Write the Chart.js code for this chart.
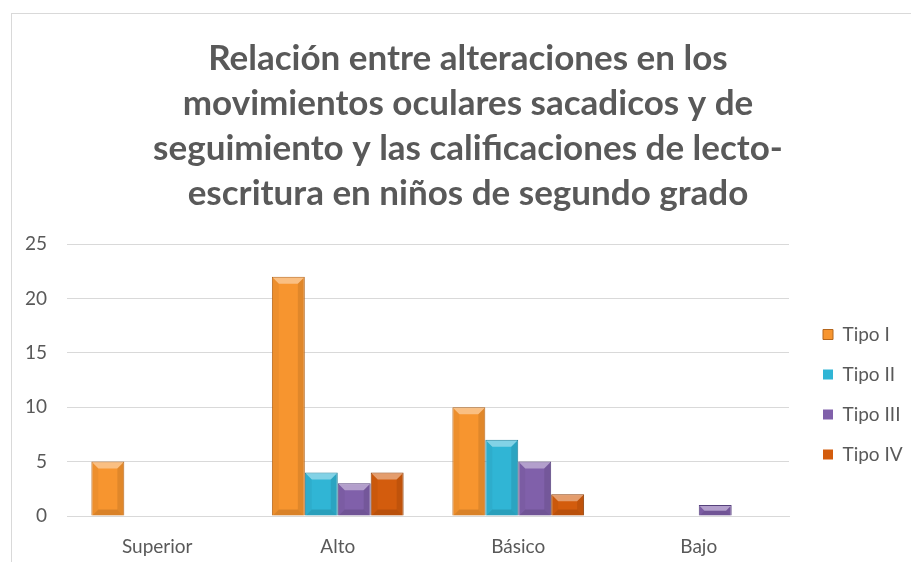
<!DOCTYPE html>
<html><head><meta charset="utf-8">
<script src="https://cdn.jsdelivr.net/npm/chart.js@4"></script>
<style>
html,body{margin:0;padding:0;background:#fff;overflow:hidden;width:911px;height:562px;}
#frame{position:absolute;left:11px;top:13px;width:920px;height:570px;border:1px solid #D9D9D9;box-sizing:border-box;}
#wrap{position:absolute;left:11px;top:13px;width:900px;height:549px;}
</style></head><body>
<div id="frame"></div>
<div id="wrap"><canvas id="c"></canvas></div>
<script>
const categories = ['Superior', 'Alto', 'Básico', 'Bajo'];
const seriesNames = ['Tipo I', 'Tipo II', 'Tipo III', 'Tipo IV'];
const tipoI = [5, 22, 10, 0];
const tipoII = [0, 4, 7, 0];
const tipoIII = [0, 3, 5, 1];
const tipoIV = [0, 4, 2, 0];
const yTickValues = [0, 5, 10, 15, 20, 25];
const titleLines = [
  'Relación entre alteraciones en los',
  'movimientos oculares sacadicos y de',
  'seguimiento y las calificaciones de lecto-',
  'escritura en niños de segundo grado'
];

const fills = ['#F7952F', '#30B5D5', '#8060AA', '#D35C0D'];
const edges = ['#B4661C', '#217F97', '#56417C', '#8C3D07'];
const seriesValues = [tipoI, tipoII, tipoIII, tipoIV];

const bevel = {
  id: 'bevel',
  afterDatasetsDraw(chart) {
    const ctx = chart.ctx;
    chart.data.datasets.forEach((ds, i) => {
      const meta = chart.getDatasetMeta(i);
      meta.data.forEach((bar, j) => {
        if (!ds.data[j]) return;
        const p = bar.getProps(['x', 'y', 'base', 'width'], true);
        const l = p.x - p.width / 2 + 1, r = p.x + p.width / 2 - 1, t = p.y + 1, b = p.base;
        const h = b - t;
        const e = Math.min(6, h / 2);
        ctx.save();
        ctx.fillStyle = 'rgba(255,255,255,0.40)';
        ctx.beginPath(); ctx.moveTo(l, t); ctx.lineTo(r, t); ctx.lineTo(r - e, t + e); ctx.lineTo(l + e, t + e); ctx.closePath(); ctx.fill();
        ctx.fillStyle = 'rgba(0,0,0,0.04)';
        ctx.beginPath(); ctx.moveTo(l, t); ctx.lineTo(l + e, t + e); ctx.lineTo(l + e, b - e); ctx.lineTo(l, b); ctx.closePath(); ctx.fill();
        ctx.fillStyle = 'rgba(0,0,0,0.09)';
        ctx.beginPath(); ctx.moveTo(r, t); ctx.lineTo(r - e, t + e); ctx.lineTo(r - e, b - e); ctx.lineTo(r, b); ctx.closePath(); ctx.fill();
        ctx.fillStyle = 'rgba(0,0,0,0.12)';
        ctx.beginPath(); ctx.moveTo(l, b); ctx.lineTo(r, b); ctx.lineTo(r - e, b - e); ctx.lineTo(l + e, b - e); ctx.closePath(); ctx.fill();
        ctx.restore();
      });
    });
  }
};

const legendPlace = {
  id: 'legendPlace',
  beforeLayout(chart) {
    const lg = chart.legend;
    if (lg && !lg._patched) {
      const f = lg.fit;
      lg.fit = function () { f.call(this); this.width = 122; };
      lg._patched = true;
    }
  },
  afterLayout(chart) {
    const lg = chart.legend;
    const w = lg.width, h = lg.height;
    lg.left = 791; lg.right = lg.left + w;
    lg.top = 291; lg.bottom = lg.top + h;
  }
};

new Chart(document.getElementById('c'), {
  type: 'bar',
  data: {
    labels: categories,
    datasets: seriesNames.map((n, i) => ({
      label: n,
      data: seriesValues[i],
      backgroundColor: fills[i],
      borderColor: edges[i],
      borderWidth: (c) => (c.raw ? 1 : 0),
      barPercentage: 1,
      categoryPercentage: 0.73
    }))
  },
  options: {
    responsive: true,
    maintainAspectRatio: false,
    animation: false,
    layout: { padding: { left: 14, right: 0, top: 0, bottom: 0 } },
    plugins: {
      title: {
        display: true,
        text: titleLines,
        color: '#595959',
        font: { family: 'Lato', size: 35, weight: 'bold', lineHeight: 1.286 },
        padding: { top: 23, bottom: 28 }
      },
      legend: {
        position: 'right',
        align: 'start',
        labels: {
          boxWidth: 10,
          boxHeight: 10,
          padding: 21,
          color: '#595959',
          font: { family: 'Lato', size: 19 }
        }
      },
      tooltip: { enabled: false }
    },
    scales: {
      x: {
        grid: { display: false },
        border: { display: true, color: '#D9D9D9', width: 1 },
        afterFit(scale) { scale.height = 46; },
        ticks: { color: '#595959', font: { family: 'Lato', size: 19 }, padding: 11 }
      },
      y: {
        min: 0, max: 25,
        afterBuildTicks(scale) { scale.ticks = yTickValues.map(v => ({ value: v })); },
        afterFit(scale) { scale.width = 42; },
        grid: { color: '#D9D9D9', drawTicks: false },
        border: { display: false },
        ticks: { color: '#595959', font: { family: 'Lato', size: 19 }, padding: 20 }
      }
    }
  },
  plugins: [bevel, legendPlace]
});
</script>
</body></html>
